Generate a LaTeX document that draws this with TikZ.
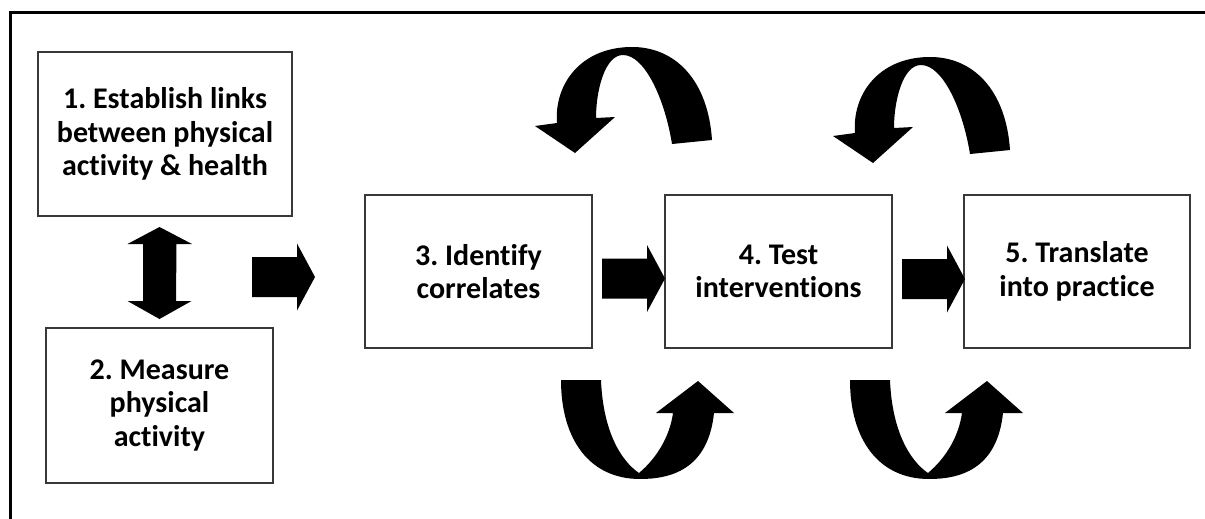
\documentclass[tikz,border=0pt]{standalone}
\usepackage{fontspec}
\setmainfont{Carlito}[Ligatures=NoCommon]
\frenchspacing
\begin{document}
\begin{tikzpicture}[x=1pt,y=-1pt,
  stage/.style={draw=black!78,line width=1.3pt,fill=white,align=center,
    inner sep=0pt,font=\fontsize{30}{33.5}\selectfont\bfseries},
  pics/fatarrow/.style={code={
    \fill (0,-20) -- (45,-20) -- (45,-33.5) -- (63,0) -- (45,33.5) -- (45,20) -- (0,20) -- cycle;}},
  pics/loopdown/.style={code={
    \fill (575,153) -- (535,126) -- (557,123)
      .. controls (554,85) and (580,48) .. (630,47)
      .. controls (675,46) and (708,80) .. (712,140)
      -- (672,144)
      .. controls (665,100) and (645,55) .. (623,55)
      .. controls (605,55) and (596,90) .. (596,118)
      -- (615,117) -- cycle;}},
  pics/loopup/.style={code={
    \fill (561,380) -- (601,380)
      .. controls (603,430) and (620,460) .. (639,473)
      .. controls (658,457) and (670,435) .. (673,413)
      -- (656,413) -- (698,381) -- (734,413) -- (714,413)
      .. controls (708,470) and (670,479) .. (640,479)
      .. controls (590,479) and (561,440) .. (561,380) -- cycle;}}
]
\useasboundingbox (0,0) rectangle (1205,519);
\fill[white] (0,0) rectangle (1205,519);

% frame, open to the right and bottom
\draw[line width=3pt] (10,519) -- (10,12.5) -- (1205,12.5);

% stages
\node[stage,minimum width=254,minimum height=164] (s1) at (165,134)
  {1. Establish links\\between physical\\activity \& health};
\node[stage,minimum width=227,minimum height=155] (s2) at (159.5,405.5)
  {2. Measure\\physical\\activity};
\node[stage,minimum width=227,minimum height=153] (s3) at (478.5,271.5)
  {3. Identify\\correlates};
\node[stage,minimum width=227,minimum height=153] (s4) at (778.5,271.5)
  {4. Test\\interventions};
\node[stage,minimum width=226,minimum height=153] (s5) at (1077,271.5)
  {5. Translate\\into practice};

% two-way arrow between stages 1 and 2
\coordinate (dtop) at (159.5,227);
\coordinate (dbot) at (159.5,319);
\fill (dtop) -- ++(32.5,17) -- ++(-15.5,0) -- (176,301) -- (191.5,301) -- (dbot)
  -- (127.5,301) -- (143,301) -- (143,244) -- (127.5,244) -- cycle;

% forward block arrows
\pic at (252,277) {fatarrow};
\pic at (602,278.5) {fatarrow};
\pic at (902,279) {fatarrow};

% feedback loops above and below the testing stages
\pic at (0,0) {loopdown};
\pic at (298,10) {loopdown};
\pic at (0,0) {loopup};
\pic at (289,0) {loopup};
\end{tikzpicture}
\end{document}
